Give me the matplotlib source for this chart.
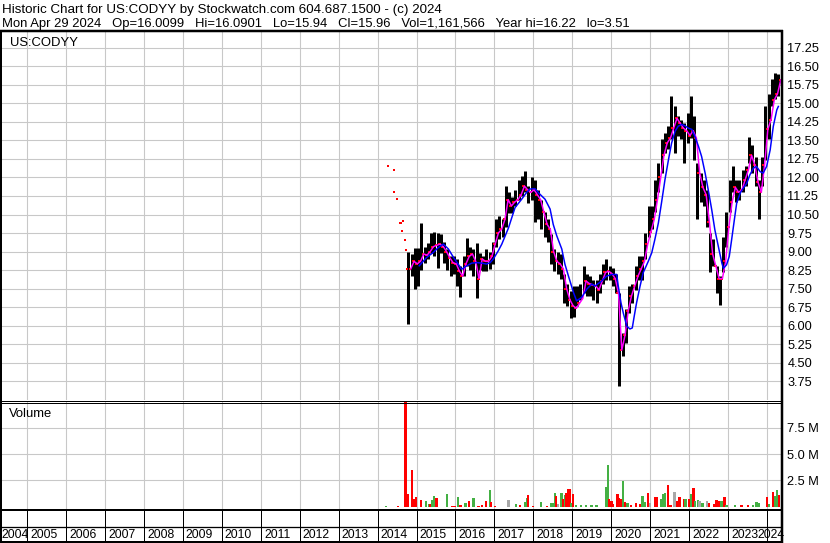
import matplotlib
matplotlib.use("Agg")
import matplotlib.pyplot as plt
import numpy as np
from matplotlib.lines import Line2D

plt.rcParams['font.family'] = ['Liberation Sans', 'DejaVu Sans']

# ---------------- data ----------------
first_year, first_month = 2014, 10   # monthly bars from Oct 2014 to Apr 2024
highs = [9.0, 8.9, 9.15,
         9.15, 10.14, 9.2, 9.35, 9.75, 9.8, 9.75, 9.7, 9.4, 9.1, 8.8, 8.8,
         8.7, 8.4, 8.8, 9.55, 9.2, 9.1, 9.35, 8.95, 8.8, 9.1, 9.0, 9.4,
         10.3, 10.45, 10.3, 11.65, 11.4, 11.2, 11.5, 11.9, 12.05, 12.25, 11.65, 12.0,
         11.9, 11.5, 11.1, 10.6, 10.3, 9.7, 9.1, 9.0, 8.9, 8.1, 7.7, 7.4,
         7.6, 7.6, 7.7, 8.4, 8.1, 8.0, 7.85, 7.85, 8.1, 8.5, 8.7, 8.4,
         8.35, 8.1, 7.3, 5.7, 6.65, 7.6, 7.7, 8.4, 8.8, 8.8, 9.75, 10.85,
         10.85, 11.9, 12.6, 13.55, 13.8, 14.1, 15.3, 14.9, 14.5, 14.35, 14.2, 14.6,
         15.3, 14.5, 12.6, 12.2, 11.9, 11.5, 9.75, 9.5, 8.4, 8.0, 9.6, 10.6,
         11.9, 12.45, 11.9, 11.9, 12.3, 12.45, 13.65, 13.3, 12.85, 11.9, 12.85, 14.9,
         15.4, 16.0, 16.24, 16.2]
lows = [6.07, 8.0, 7.5,
        7.6, 8.27, 8.55, 8.7, 8.95, 8.8, 8.35, 8.95, 8.55, 8.27, 8.0, 8.07,
        7.6, 7.15, 8.0, 8.4, 8.27, 8.0, 7.1, 8.27, 8.2, 8.2, 8.3, 8.5,
        9.2, 9.5, 9.6, 10.0, 10.57, 10.57, 10.85, 11.1, 11.25, 11.4, 10.97, 11.1,
        10.2, 10.3, 9.9, 9.6, 9.4, 8.5, 8.2, 8.1, 7.9, 6.9, 6.8, 6.3,
        6.35, 6.8, 7.05, 7.3, 7.2, 7.2, 7.05, 6.9, 7.3, 7.7, 7.85, 7.85,
        7.6, 7.3, 3.55, 4.75, 5.3, 6.5, 6.9, 7.45, 7.85, 7.85, 8.7, 9.6,
        9.9, 10.6, 11.4, 12.2, 13.0, 13.15, 13.55, 13.0, 13.7, 13.55, 12.6, 13.4,
        13.6, 12.7, 10.3, 11.0, 10.85, 10.0, 8.15, 8.4, 7.3, 6.85, 8.15, 9.2,
        10.6, 11.4, 11.0, 11.1, 11.4, 11.65, 12.6, 12.2, 11.65, 10.3, 11.65, 12.7,
        13.55, 14.9, 15.2, 15.3]
closes = [8.3, 8.6, 8.5,
          8.6, 8.9, 8.85, 9.0, 9.2, 9.25, 9.3, 9.2, 9.0, 8.75, 8.55, 8.5,
          8.2, 8.0, 8.5, 8.8, 8.9, 8.6, 7.9, 8.7, 8.6, 8.6, 8.8, 9.3,
          9.75, 9.9, 10.3, 11.1, 10.85, 11.0, 11.1, 11.3, 11.65, 11.5, 11.4, 11.5,
          11.3, 11.1, 10.6, 10.1, 9.9, 9.0, 8.6, 8.5, 8.3, 7.5, 7.05, 6.8,
          6.7, 6.9, 7.1, 7.8, 7.7, 7.65, 7.6, 7.45, 7.8, 8.15, 8.2, 8.1,
          7.9, 7.3, 5.0, 5.6, 6.6, 7.2, 7.6, 8.0, 8.3, 8.6, 9.3, 9.8,
          10.3, 11.1, 12.0, 12.9, 13.4, 13.6, 14.0, 14.4, 14.2, 14.0, 13.9, 13.7,
          13.9, 13.6, 12.2, 11.6, 11.3, 10.2, 8.9, 8.4, 7.9, 7.9, 8.6, 10.0,
          11.0, 11.6, 11.4, 11.5, 11.9, 12.3, 12.9, 12.5, 11.8, 11.4, 12.5, 13.95,
          14.35, 15.15, 15.4, 15.96]

# slower moving average (blue)
blue_dates = [2015.07, 2015.26, 2015.43, 2015.56, 2015.69, 2015.82, 2015.95,
              2016.07, 2016.16, 2016.29, 2016.42, 2016.55, 2016.67, 2016.80, 2016.89, 2016.97,
              2017.10, 2017.19, 2017.36, 2017.53, 2017.70, 2017.83, 2017.91,
              2018.04, 2018.17, 2018.30, 2018.43, 2018.51, 2018.60, 2018.73, 2018.81, 2018.90,
              2019.03, 2019.11, 2019.24, 2019.37, 2019.50, 2019.58, 2019.75, 2019.88,
              2020.01, 2020.14, 2020.18, 2020.25, 2020.31, 2020.40, 2020.48, 2020.54, 2020.59,
              2020.65, 2020.74, 2020.82, 2020.95,
              2021.04, 2021.12, 2021.21, 2021.29, 2021.38, 2021.47, 2021.55, 2021.64, 2021.72,
              2021.81, 2021.89, 2021.98,
              2022.07, 2022.15, 2022.24, 2022.32, 2022.41, 2022.49, 2022.58, 2022.66, 2022.75,
              2022.84, 2022.88, 2022.96,
              2023.03, 2023.09, 2023.16, 2023.22, 2023.31, 2023.39, 2023.48, 2023.56, 2023.65,
              2023.73, 2023.82, 2023.90, 2023.99,
              2024.08, 2024.16, 2024.25, 2024.29]
blue_values = [8.42, 8.76, 8.96, 9.16, 9.3, 9.1, 8.76,
               8.49, 8.28, 8.42, 8.53, 8.55, 8.53, 8.49, 8.55, 8.69,
               9.03, 9.3, 9.95, 10.78, 11.12, 11.4, 11.53,
               11.55, 11.32, 11.12, 10.72, 10.1, 9.64, 9.1, 8.49, 8.01,
               7.34, 7.0, 7.14, 7.47, 7.68, 7.6, 7.8, 8.0,
               8.07, 8.07, 7.6, 6.92, 6.5, 5.97, 5.86, 5.9, 6.38,
               6.92, 7.6, 8.14, 8.6,
               8.95, 9.49, 10.16, 10.97, 11.92, 12.73, 13.4, 13.88, 14.08,
               14.15, 14.1, 14.0,
               13.95, 13.66, 13.26, 12.85, 12.18, 11.5, 10.69, 9.88, 9.2,
               8.53, 8.32, 8.46,
               8.8, 9.47, 10.28, 10.96, 11.36, 11.57, 11.77, 12.11, 12.38,
               12.45, 12.24, 12.18, 12.45,
               13.12, 14.07, 14.74, 14.88]

# isolated prints before regular trading (2014)
pre_dates = [2014.27, 2014.43, 2014.42, 2014.49, 2014.57, 2014.59, 2014.65, 2014.63, 2014.70, 2014.73]
pre_prices = [12.47, 12.30, 11.41, 11.14, 10.17, 10.17, 10.25, 9.84, 9.47, 9.06]

# volume (millions of shares), colour: r = down, g = up, n = unchanged
vol_dates = [2014.22, 2014.52, 2014.72, 2014.79, 2014.89, 2014.92, 2014.99,
             2015.12, 2015.25, 2015.32, 2015.36, 2015.40, 2015.45, 2015.51, 2015.79, 2015.92, 2015.98,
             2016.07, 2016.11, 2016.15, 2016.26, 2016.35, 2016.46, 2016.59, 2016.69, 2016.79, 2016.89, 2016.92,
             2017.02, 2017.36, 2017.56, 2017.66, 2017.78, 2017.83, 2017.87, 2017.99,
             2018.20, 2018.35, 2018.45, 2018.50, 2018.56, 2018.59, 2018.63, 2018.72, 2018.77, 2018.81,
             2018.85, 2018.89, 2018.93, 2018.97,
             2019.02, 2019.10, 2019.23, 2019.36, 2019.49, 2019.62, 2019.87, 2019.91, 2019.94, 2019.98,
             2020.02, 2020.04, 2020.16, 2020.20, 2020.25, 2020.30, 2020.36, 2020.42, 2020.51, 2020.64,
             2020.73, 2020.80, 2020.87, 2020.94, 2020.99,
             2021.14, 2021.18, 2021.27, 2021.34, 2021.38, 2021.45, 2021.52, 2021.62, 2021.70, 2021.75,
             2021.86, 2021.91,
             2022.01, 2022.06, 2022.11, 2022.15, 2022.23, 2022.27, 2022.34, 2022.46, 2022.51, 2022.64,
             2022.70, 2022.77, 2022.83, 2022.91, 2022.96,
             2023.17, 2023.34, 2023.51, 2023.64, 2023.73, 2023.79,
             2024.00, 2024.05, 2024.15, 2024.20, 2024.25, 2024.30]
vol_values = [0.06, 0.06, 10.5, 1.17, 3.5, 0.7, 0.9,
              0.6, 0.55, 0.2, 0.2, 0.63, 1.0, 0.8, 1.17, 0.06, 0.06,
              0.92, 0.12, 0.12, 0.38, 0.5, 0.8, 0.06, 0.12, 0.54, 1.55, 0.45,
              0.06, 0.6, 0.22, 0.12, 0.48, 0.8, 1.08, 0.06,
              0.4, 0.06, 0.38, 0.32, 1.27, 1.0, 0.28, 1.33, 0.7, 1.08,
              1.33, 1.65, 1.65, 0.38,
              1.23, 0.12, 0.12, 0.12, 0.12, 0.12, 1.9, 4.0, 0.75, 0.54,
              0.54, 0.22, 1.23, 0.82, 0.7, 2.4, 0.41, 0.32, 0.12, 0.3,
              0.2, 1.0, 0.44, 1.33, 0.38,
              0.92, 0.92, 0.7, 1.17, 1.27, 2.1, 0.12, 1.36, 0.54, 0.95,
              0.76, 0.73,
              0.7, 1.17, 1.8, 0.54, 0.6, 0.54, 0.35, 0.57, 0.38, 0.28,
              0.63, 0.54, 0.54, 0.92, 0.12,
              0.15, 0.15, 0.12, 0.15, 0.48, 0.38,
              0.9, 0.22, 1.4, 1.0, 1.6, 1.08]
vol_colors = ['g', 'r', 'r', 'r', 'r', 'r', 'r',
              'r', 'g', 'g', 'r', 'g', 'g', 'r', 'g', 'r', 'r',
              'g', 'r', 'r', 'g', 'r', 'g', 'r', 'r', 'r', 'g', 'r',
              'r', 'n', 'g', 'r', 'g', 'g', 'r', 'r',
              'g', 'r', 'g', 'g', 'g', 'r', 'n', 'g', 'r', 'g',
              'r', 'r', 'r', 'g',
              'r', 'g', 'g', 'g', 'g', 'g', 'g', 'g', 'r', 'r',
              'r', 'r', 'r', 'r', 'r', 'g', 'r', 'g', 'r', 'r',
              'r', 'g', 'g', 'r', 'n',
              'r', 'r', 'g', 'g', 'g', 'r', 'r', 'n', 'r', 'r',
              'r', 'g',
              'r', 'g', 'r', 'g', 'g', 'n', 'g', 'n', 'r', 'r',
              'r', 'r', 'g', 'r', 'g',
              'g', 'r', 'r', 'g', 'g', 'g',
              'r', 'g', 'r', 'g', 'g', 'r']

price_ticks = np.arange(3.75, 17.26, 0.75)
vol_ticks = [2.5, 5.0, 7.5]
vol_tick_labels = ['2.5 M', '5.0 M', '7.5 M']
year_labels = list(range(2004, 2025))

header1 = "Historic Chart for US:CODYY by Stockwatch.com 604.687.1500 - (c) 2024"
header2 = ("Mon Apr 29 2024   Op=16.0099   Hi=16.0901   Lo=15.94   Cl=15.96   "
           "Vol=1,161,566   Year hi=16.22   lo=3.51")

# ---------------- layout helpers ----------------
W, H = 830, 543
fig = plt.figure(figsize=(W / 100, H / 100), dpi=100)
PX = 0.72  # points per pixel


def rect(x0, y0, x1, y1):
    return [x0 / W, 1 - y1 / H, (x1 - x0) / W, (y1 - y0) / H]


def hline(y, x0, x1, lw):
    fig.add_artist(Line2D([x0 / W, x1 / W], [1 - y / H, 1 - y / H], transform=fig.transFigure,
                          color='black', lw=lw * PX, solid_capstyle='butt'))


def vline(x, y0, y1, lw):
    fig.add_artist(Line2D([x / W, x / W], [1 - y0 / H, 1 - y1 / H], transform=fig.transFigure,
                          color='black', lw=lw * PX, solid_capstyle='butt'))


XLIM = (2005 - 26 / 38.95, 2005 + 754 / 38.95)
GRID = '#c8c8c8'
year_bounds = list(range(2005, 2025))

# ---------------- price panel ----------------
ax = fig.add_axes(rect(1, 32, 781, 400))
ax.set_xlim(*XLIM)
ax.set_ylim(3.75 - 19 / 24.67, 17.25 + 16 / 24.67)
for s in ax.spines.values():
    s.set_visible(False)
ax.set_xticks(year_bounds)
ax.set_yticks(price_ticks)
ax.set_yticklabels([f"{v:.2f}" for v in price_ticks])
ax.grid(True, color=GRID, lw=1.1 * PX)
ax.set_axisbelow(True)
ax.tick_params(axis='both', length=0)
ax.tick_params(axis='x', labelbottom=False)
ax.tick_params(axis='y', left=False, labelleft=False, right=False, labelright=True,
               labelsize=9.2, pad=4.5)

n = len(closes)
months = np.arange(n) + (first_month - 1)
xc = first_year + (months + 0.5) / 12.0
xe = first_year + (months + 1.0) / 12.0
opens = [closes[0]] + closes[:-1]

ax.vlines(xc, lows, highs, colors='black', lw=3.0 * PX, zorder=3)
ax.plot(xc + 0.03, closes, 's', color='red', ms=2.6 * PX, mew=0, zorder=4)
ax.plot(xc - 0.03, opens, 's', color='red', ms=2.6 * PX, mew=0, zorder=4)
ax.plot(pre_dates, pre_prices, 's', color='red', ms=2.8 * PX, mew=0, zorder=4)

ax.plot(xe + 0.02, closes, color='#ff00ff', lw=1.5 * PX, zorder=5)
ax.plot(blue_dates, blue_values, color='#0000ff', lw=1.5 * PX, zorder=6)

ax.text(9 / 780, 1 - (46.5 - 32) / 368, "US:CODYY", transform=ax.transAxes,
        fontsize=9.4, va='baseline', ha='left')

# ---------------- volume panel ----------------
av = fig.add_axes(rect(1, 402, 781, 509))
av.set_xlim(*XLIM)
av.set_ylim(-(509 - 506.6) / 10.52, (506.6 - 402) / 10.52)
for s in av.spines.values():
    s.set_visible(False)
av.set_xticks(year_bounds)
av.set_yticks(vol_ticks)
av.set_yticklabels(vol_tick_labels)
av.grid(True, color=GRID, lw=1.1 * PX)
av.set_axisbelow(True)
av.tick_params(axis='both', length=0)
av.tick_params(axis='x', labelbottom=False)
av.tick_params(axis='y', left=False, labelleft=False, right=False, labelright=True,
               labelsize=9.2, pad=4.5)
cmap = {'r': '#ff0000', 'g': '#44b044', 'n': '#a8a8a8'}
av.bar(vol_dates, vol_values, width=0.06, color=[cmap[c] for c in vol_colors], zorder=3)
av.text(8 / 780, 1 - (417 - 402) / 107, "Volume", transform=av.transAxes,
        fontsize=9.4, va='baseline', ha='left')

# ---------------- date strip ----------------
ad = fig.add_axes(rect(1, 509, 781, 542))
ad.set_xlim(*XLIM)
ad.set_ylim(542, 509)
ad.axis('off')
for yb in year_bounds:
    ad.plot([yb, yb], [510, 541], color='black', lw=1.0 * PX, solid_capstyle='butt')
min_center = XLIM[0] + 14.5 / 38.95
for yr in year_labels:
    right = min(yr + 1, XLIM[1])
    cx = max((yr + right) / 2.0 - 0.07, min_center)
    ad.text(cx, 534.5, str(yr), ha='center', va='center',
            fontsize=8.8, clip_on=False)

# ---------------- borders & header ----------------
hline(31, 0, 783, 2.5)
vline(1, 30, 543, 2)
vline(782, 30, 543, 2.5)
hline(400.5, 0, 782, 1)
hline(402.5, 0, 782, 1)
hline(510, 0, 782, 2)
hline(526.5, 0, 782, 1.3)
hline(541.5, 0, 782, 2)

fig.text(2 / W, 1 - 13 / H, header1, fontsize=9.65, va='baseline', ha='left')
fig.text(2 / W, 1 - 26.5 / H, header2, fontsize=9.4, va='baseline', ha='left')

fig.savefig('out.png', dpi=100, facecolor='white')
